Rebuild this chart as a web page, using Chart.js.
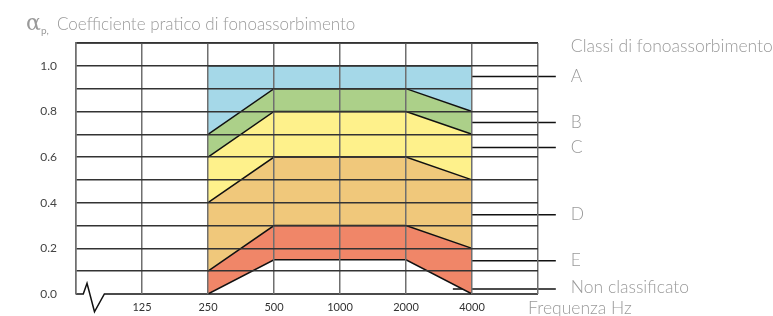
<!DOCTYPE html>
<html>
<head>
<meta charset="utf-8">
<script src="https://cdn.jsdelivr.net/npm/chart.js@4"></script>
<style>
  body { margin: 0; background: #fff; }
</style>
</head>
<body>
<canvas id="myChart" width="773" height="316"></canvas>
<script>
// frequency positions: 0 = axis break, 7 = right edge
var freqLabels = ["", "125", "250", "500", "1000", "2000", "4000", ""];
var bandX = [2, 3, 4, 5, 6];

// class boundaries at 250, 500, 1000, 2000, 4000 Hz
var lineNone = [0.0, 0.15, 0.15, 0.15, 0.0];
var lineE = [0.1, 0.3, 0.3, 0.3, 0.2];
var lineD = [0.4, 0.6, 0.6, 0.6, 0.5];
var lineC = [0.6, 0.8, 0.8, 0.8, 0.7];
var lineB = [0.7, 0.9, 0.9, 0.9, 0.8];
var lineA = [1.0, 1.0, 1.0, 1.0, 1.0];

var classNames = ["A", "B", "C", "D", "E", "Non classificato"];
var classLeaderY = [0.953, 0.752, 0.642, 0.347, 0.146, 0.022];
var leaderX = [5.71, 7.27];

var bandColors = ["#a5d8e8", "#acd089", "#fef18b", "#f0c87b", "#f08668"];

function pts(vals) {
  return vals.map(function(v, i) { return { x: bandX[i], y: v }; });
}

var datasets = [
  { data: pts(lineNone), fill: false },
  { data: pts(lineE), fill: '-1', backgroundColor: bandColors[4] },
  { data: pts(lineD), fill: '-1', backgroundColor: bandColors[3] },
  { data: pts(lineC), fill: '-1', backgroundColor: bandColors[2] },
  { data: pts(lineB), fill: '-1', backgroundColor: bandColors[1] },
  { data: pts(lineA), fill: '-1', backgroundColor: bandColors[0] }
];
datasets.forEach(function(d) {
  d.borderColor = "#111";
  d.borderWidth = 1.5;
  d.pointRadius = 0;
  d.tension = 0;
});

// leader lines to the class labels
classLeaderY.forEach(function(y) {
  datasets.push({
    data: [{ x: leaderX[0], y: y }, { x: leaderX[1], y: y }],
    borderColor: "#111", borderWidth: 1.5, pointRadius: 0, fill: false, clip: false
  });
});

// x axis line with the break zigzag
datasets.push({
  data: [{ x: 0, y: 0 }, { x: 0.11, y: 0 }, { x: 0.167, y: 0.047 }, { x: 0.28, y: -0.078 }, { x: 0.43, y: 0 }, { x: 7, y: 0 }],
  borderColor: "#111", borderWidth: 1.5, pointRadius: 0, fill: false, clip: false, tension: 0
});
// top frame line
datasets.push({
  data: [{ x: 0, y: 1.1 }, { x: 7, y: 1.1 }],
  borderColor: "#333", borderWidth: 1.5, pointRadius: 0, fill: false, clip: false
});

var textPlugin = {
  id: 'texts',
  afterDraw: function(chart) {
    var c = chart.ctx;
    var xs = chart.scales.x, ys = chart.scales.y;
    c.save();
    c.fillStyle = "#9a9a9a";
    c.textBaseline = "middle";
    c.textAlign = "left";
    var lx = xs.getPixelForValue(leaderX[1]) + 15;
    c.font = "300 17.5px Lato";
    classNames.forEach(function(n, i) {
      c.fillText(n, lx, ys.getPixelForValue(classLeaderY[i]) - (i == 5 ? 2 : 0));
    });
    c.fillText("Classi di fonoassorbimento", lx, 46);
    c.fillText("Frequenza Hz", xs.getPixelForValue(6.85), 308);
    // y axis title
    c.font = "22px 'DejaVu Serif'";
    c.fillText("α", 26, 24);
    c.font = "10px Lato";
    c.fillText("p,", 41, 31);
    c.font = "300 17px Lato";
    c.fillText("Coefficiente pratico di fonoassorbimento", 57, 25);
    c.restore();
  }
};

var ctx = document.getElementById("myChart").getContext('2d');
var myChart = new Chart(ctx, {
  type: 'line',
  data: { datasets: datasets },
  options: {
    responsive: false,
    animation: false,
    layout: { padding: { top: 43, right: 235, bottom: 0, left: 0 } },
    plugins: { legend: { display: false }, tooltip: { enabled: false } },
    scales: {
      x: {
        type: 'linear', min: 0, max: 7,
        afterFit: function(s) { s.height = 22; s.paddingLeft = 0; s.paddingRight = 0; s.paddingTop = 0; s.paddingBottom = 0; },
        ticks: {
          stepSize: 1, padding: 7, color: "#333",
          font: { family: "Lato", size: 11 },
          callback: function(v) { return freqLabels[v] || ""; }
        },
        grid: { z: 1, color: "#6f6f6f", lineWidth: 1.5, drawTicks: false },
        border: { display: false }
      },
      y: {
        min: 0, max: 1.1,
        afterFit: function(s) { s.width = 76; s.paddingTop = 0; s.paddingBottom = 0; },
        ticks: {
          stepSize: 0.1, padding: 19, color: "#444",
          font: { family: "Lato", size: 12 },
          callback: function(v) {
            var k = Math.round(v * 10);
            return (k % 2 === 0 && k <= 10) ? (k / 10).toFixed(1) : "";
          }
        },
        grid: {
          z: 1, lineWidth: 1.5, drawTicks: false,
          color: function(c) { return Math.round(c.tick.value * 10) === 0 ? 'rgba(0,0,0,0)' : '#333'; }
        },
        border: { display: true, z: 1, color: "#6f6f6f", width: 1.5 }
      }
    }
  },
  plugins: [textPlugin]
});
</script>
</body>
</html>
